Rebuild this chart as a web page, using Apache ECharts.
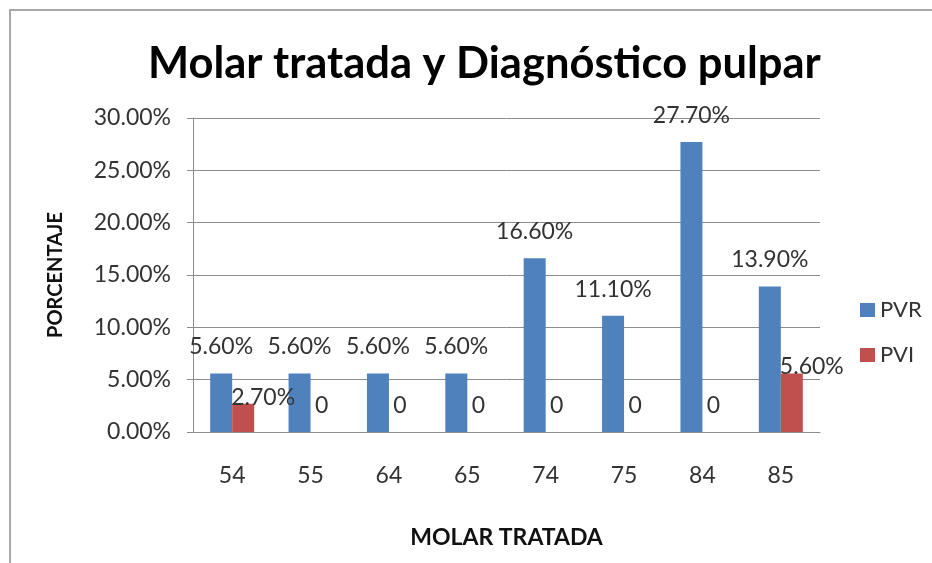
<!DOCTYPE html>
<html>
<head>
<meta charset="utf-8">
<script src="https://cdn.jsdelivr.net/npm/echarts@6/dist/echarts.min.js"></script>
<style>
html,body{margin:0;padding:0;background:#fff;}
#chart{width:932px;height:563px;}
</style>
</head>
<body>
<div id="chart"></div>
<script>
const categories = ['54', '55', '64', '65', '74', '75', '84', '85'];
const pvr = [5.6, 5.6, 5.6, 5.6, 16.6, 11.1, 27.7, 13.9];
const pvi = [2.7, 0, 0, 0, 0, 0, 0, 5.6];
const seriesNames = ['PVR', 'PVI'];
const yTicks = { min: 0, max: 30, interval: 5 };

const FONT = 'Lato';
const pct = v => v.toFixed(2) + '%';
const lbl = v => (v === 0 ? '0' : pct(v));

const chart = echarts.init(document.getElementById('chart'), null, { renderer: 'canvas' });

chart.setOption({
  backgroundColor: '#ffffff',
  animation: false,
  graphic: [{
    type: 'rect',
    shape: { x: 10, y: 10, width: 1000, height: 700 },
    style: { fill: 'none', stroke: '#a8a8a8', lineWidth: 2 },
    z: 100
  }],
  title: {
    text: 'Molar tratada y Diagnóstico pulpar',
    left: 143,
    top: 37,
    textStyle: { fontFamily: FONT, fontWeight: 'bold', fontSize: 43.5, color: '#000' }
  },
  legend: {
    orient: 'vertical',
    left: 855,
    top: 294,
    itemWidth: 15,
    itemHeight: 14,
    itemGap: 23,
    icon: 'rect',
    textStyle: { fontFamily: FONT, fontSize: 22, color: '#333', padding: [0, 0, 0, 0] },
    data: seriesNames
  },
  grid: { left: 193, right: 112, top: 118, bottom: 131, containLabel: false },
  xAxis: {
    type: 'category',
    data: categories,
    name: 'MOLAR TRATADA',
    nameLocation: 'middle',
    nameGap: 94,
    nameTextStyle: { fontFamily: FONT, fontWeight: 'bold', fontSize: 23, color: '#111' },
    axisLine: { lineStyle: { color: '#8c8c8c', width: 1 } },
    axisTick: { show: false },
    axisLabel: { fontFamily: FONT, fontSize: 23, color: '#333', margin: 32 }
  },
  yAxis: {
    type: 'value',
    min: yTicks.min,
    max: yTicks.max,
    interval: yTicks.interval,
    name: 'PORCENTAJE',
    nameLocation: 'middle',
    nameRotate: 90,
    nameGap: 127,
    nameTextStyle: { fontFamily: FONT, fontWeight: 'bold', fontSize: 20, color: '#111' },
    axisLine: { show: true, lineStyle: { color: '#8c8c8c', width: 1 } },
    axisTick: { show: true, length: 6, lineStyle: { color: '#8c8c8c' } },
    splitLine: { lineStyle: { color: '#8c8c8c', width: 1 } },
    axisLabel: { fontFamily: FONT, fontSize: 23, color: '#333', margin: 22, formatter: v => pct(v) }
  },
  series: [
    {
      name: seriesNames[0],
      type: 'bar',
      data: pvr,
      barWidth: 22,
      barGap: '0%',
      itemStyle: { color: '#4F81BD' },
      label: {
        show: true, position: 'top', distance: 15,
        fontFamily: FONT, fontSize: 23, color: '#333',
        formatter: p => lbl(p.value)
      }
    },
    {
      name: seriesNames[1],
      type: 'bar',
      barWidth: 22,
      barGap: '0%',
      itemStyle: { color: '#C0504D' },
      data: pvi.map(v => ({
        value: v,
        label: { offset: v === 0 ? [0, -10] : [20, 10] }
      })),
      label: {
        show: true, position: 'top', distance: 5,
        fontFamily: FONT, fontSize: 23, color: '#333',
        formatter: p => lbl(p.value)
      }
    }
  ]
});
</script>
</body>
</html>
